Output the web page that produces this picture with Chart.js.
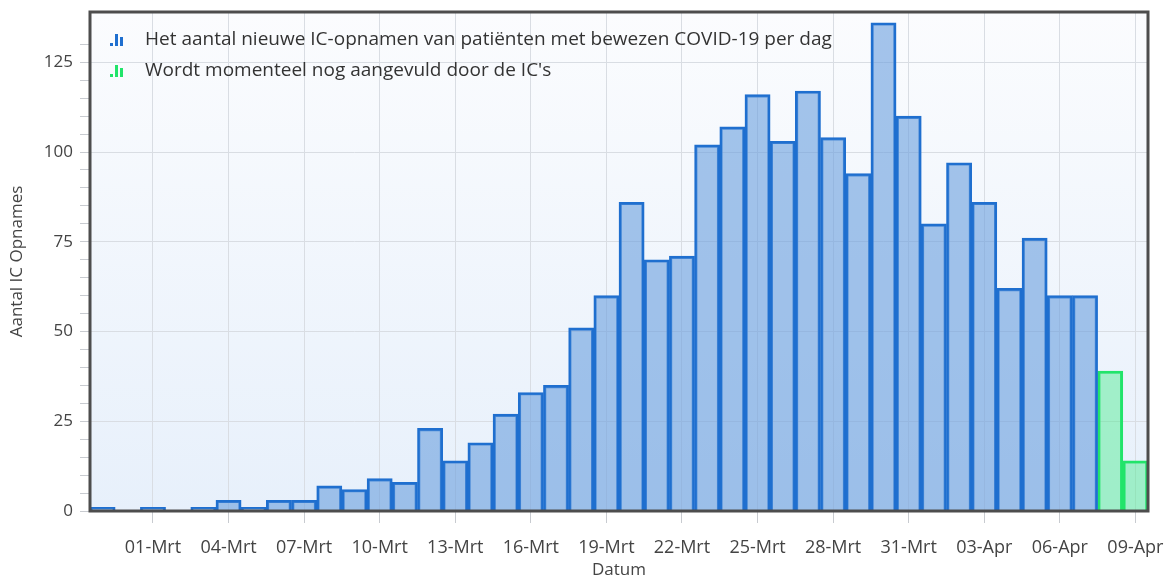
<!DOCTYPE html>
<html>
<head>
<meta charset="utf-8">
<script src="https://cdn.jsdelivr.net/npm/chart.js@4/dist/chart.umd.min.js"></script>
<style>
    html, body { margin: 0; padding: 0; background: #ffffff; }
    #wrap { width: 1165px; height: 580px; }
</style>
</head>
<body>
<div id="wrap"><canvas id="ic-opnames-chart"></canvas></div>
<script>
var dagen = ["28-Feb", "29-Feb", "01-Mrt", "02-Mrt", "03-Mrt", "04-Mrt", "05-Mrt", "06-Mrt", "07-Mrt", "08-Mrt",
    "09-Mrt", "10-Mrt", "11-Mrt", "12-Mrt", "13-Mrt", "14-Mrt", "15-Mrt", "16-Mrt", "17-Mrt", "18-Mrt",
    "19-Mrt", "20-Mrt", "21-Mrt", "22-Mrt", "23-Mrt", "24-Mrt", "25-Mrt", "26-Mrt", "27-Mrt", "28-Mrt",
    "29-Mrt", "30-Mrt", "31-Mrt", "01-Apr", "02-Apr", "03-Apr", "04-Apr", "05-Apr", "06-Apr", "07-Apr",
    "08-Apr", "09-Apr"];
var opnamen = [1, 0, 1, 0, 1, 3, 1, 3, 3, 7,
    6, 9, 8, 23, 14, 19, 27, 33, 35, 51,
    60, 86, 70, 71, 102, 107, 116, 103, 117, 104,
    94, 136, 110, 80, 97, 86, 62, 76, 60, 60];
var aanvulling = [39, 14];
var yTicks = [0, 25, 50, 75, 100, 125];

var labelBlauw = "Het aantal nieuwe IC-opnamen van patiënten met bewezen COVID-19 per dag";
var labelGroen = "Wordt momenteel nog aangevuld door de IC's";

var dataBlauw = [];
var dataGroen = [];
for (var i = 0; i < dagen.length; i++) {
    dataBlauw.push(i < opnamen.length ? opnamen[i] : null);
    dataGroen.push(i < opnamen.length ? null : aanvulling[i - opnamen.length]);
}

var fontFamily = "'Open Sans', 'Noto Sans', sans-serif";

function barIcon(color) {
    var c = document.createElement("canvas");
    c.width = 15;
    c.height = 15;
    var g = c.getContext("2d");
    g.fillStyle = color;
    g.fillRect(1, 11, 3, 3);
    g.fillRect(6, 2, 3, 12);
    g.fillRect(11, 5, 3, 9);
    return c;
}

var plotBackground = {
    id: "plotBackground",
    beforeDraw: function (chart) {
        var a = chart.chartArea;
        var ctx = chart.ctx;
        var grad = ctx.createLinearGradient(0, a.top, 0, a.bottom);
        grad.addColorStop(0, "#fbfcfe");
        grad.addColorStop(1, "#e7f0fb");
        ctx.save();
        ctx.fillStyle = grad;
        ctx.fillRect(a.left, a.top, a.right - a.left, a.bottom - a.top);
        ctx.restore();
    },
    afterDraw: function (chart) {
        var a = chart.chartArea;
        var ctx = chart.ctx;
        ctx.save();
        ctx.strokeStyle = "#4d4d4d";
        ctx.lineWidth = 3;
        ctx.strokeRect(a.left, a.top, a.right - a.left, a.bottom - a.top);
        ctx.restore();
    }
};

var insideLegend = {
    id: "insideLegend",
    afterDatasetsDraw: function (chart) {
        var a = chart.chartArea;
        var ctx = chart.ctx;
        var items = [
            { text: chart.data.datasets[0].label, icon: barIcon("#1f6fcf") },
            { text: chart.data.datasets[1].label, icon: barIcon("#22e46a") }
        ];
        ctx.save();
        ctx.font = "19px " + fontFamily;
        ctx.fillStyle = "#333333";
        ctx.textBaseline = "middle";
        for (var k = 0; k < items.length; k++) {
            var y = a.top + 28 + k * 31;
            ctx.drawImage(items[k].icon, a.left + 19, y - 8);
            ctx.fillText(items[k].text, a.left + 55, y);
        }
        ctx.restore();
    }
};

var context = document.getElementById("ic-opnames-chart").getContext("2d");
var icChart = new Chart(context, {
    type: "bar",
    data: {
        labels: dagen,
        datasets: [{
            label: labelBlauw,
            data: dataBlauw,
            backgroundColor: "rgba(105, 158, 222, 0.6)",
            borderColor: "#1f6fcf",
            borderWidth: 2.5,
            barPercentage: 1,
            categoryPercentage: 1
        },
        {
            label: labelGroen,
            data: dataGroen,
            backgroundColor: "rgba(70, 235, 140, 0.45)",
            borderColor: "#22e46a",
            borderWidth: 2.5,
            barPercentage: 1,
            categoryPercentage: 1
        }]
    },
    options: {
        responsive: true,
        maintainAspectRatio: false,
        animation: false,
        layout: {
            padding: { left: 0, right: 17, top: 12, bottom: 0 }
        },
        plugins: {
            legend: { display: false },
            tooltip: { enabled: false }
        },
        scales: {
            x: {
                stacked: true,
                afterFit: function (scale) {
                    scale.height = 69;
                    scale.paddingLeft = 0;
                    scale.paddingRight = 0;
                },
                border: { display: false },
                grid: {
                    color: function (c) { return c.index % 3 === 2 ? "#d9dde3" : "transparent"; },
                    tickColor: function (c) { return c.index % 3 === 2 ? "#c8cbd0" : "transparent"; },
                    tickLength: 12,
                    offset: false
                },
                ticks: {
                    autoSkip: false,
                    maxRotation: 0,
                    padding: 14,
                    color: "#444444",
                    font: { family: fontFamily, size: 18 },
                    callback: function (value, index) {
                        return index % 3 === 2 ? dagen[index] : "";
                    }
                },
                title: {
                    display: true,
                    text: "Datum",
                    color: "#444444",
                    font: { family: fontFamily, size: 17 },
                    padding: { top: 0, bottom: 0 }
                }
            },
            y: {
                stacked: true,
                min: 0,
                max: 139,
                afterFit: function (scale) {
                    scale.width = 90;
                    scale.paddingTop = 0;
                    scale.paddingBottom = 0;
                },
                border: { display: false },
                grid: {
                    color: function (c) { return yTicks.indexOf(c.tick.value) >= 0 ? "#d9dde3" : "transparent"; },
                    tickColor: function (c) { return c.tick.value > 130 ? "transparent" : "#c8cbd0"; },
                    tickLength: 10
                },
                ticks: {
                    stepSize: 5,
                    autoSkip: false,
                    padding: 7,
                    color: "#444444",
                    font: { family: fontFamily, size: 17 },
                    callback: function (value) {
                        return yTicks.indexOf(value) >= 0 ? value : "";
                    }
                },
                title: {
                    display: true,
                    text: "Aantal IC Opnames",
                    color: "#444444",
                    font: { family: fontFamily, size: 17 },
                    padding: { top: 7, bottom: 0 }
                }
            }
        }
    },
    plugins: [plotBackground, insideLegend]
});
</script>
</body>
</html>
